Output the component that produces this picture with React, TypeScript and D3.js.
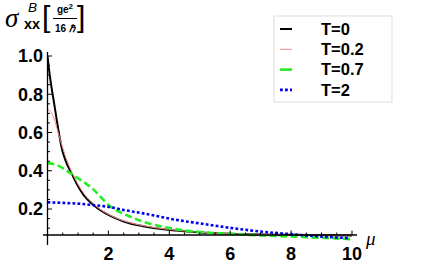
import React from "react";
import * as d3 from "d3";

const muT0 = [0, 0.05, 0.1, 0.2, 0.27, 0.35, 0.48, 0.6, 0.81, 1.0, 1.2, 1.52, 2.05, 2.5, 3.14, 4.24, 5.33, 6.5, 8, 10];
const sT0 = [1.0, 0.93, 0.87, 0.77, 0.7, 0.62, 0.51, 0.45, 0.38, 0.32, 0.27, 0.22, 0.165, 0.135, 0.11, 0.087, 0.074, 0.068, 0.065, 0.062];

const muT02 = [0, 0.1, 0.2, 0.35, 0.5, 0.65, 0.81, 1.0, 1.2, 1.52, 2.05, 2.5, 3.14, 4.24, 5.33, 6.5, 8, 10];
const sT02 = [0.72, 0.71, 0.68, 0.6, 0.52, 0.45, 0.39, 0.33, 0.28, 0.225, 0.168, 0.138, 0.113, 0.089, 0.075, 0.068, 0.065, 0.062];

const muT07 = [0, 0.3, 0.54, 0.81, 1.2, 1.52, 2.05, 2.6, 3.14, 4.24, 5.33, 6, 7, 8.17, 9.2, 10];
const sT07 = [0.44, 0.43, 0.41, 0.38, 0.34, 0.3, 0.215, 0.168, 0.134, 0.094, 0.076, 0.07, 0.062, 0.055, 0.048, 0.042];

const muT2 = [0, 0.5, 1, 1.52, 2.05, 2.5, 3.14, 4.24, 5.33, 6.25, 7.07, 7.95, 8.7, 9.92];
const sT2 = [0.235, 0.232, 0.228, 0.22, 0.21, 0.195, 0.177, 0.143, 0.117, 0.096, 0.081, 0.069, 0.059, 0.047];

const legendLabels = ["T=0", "T=0.2", "T=0.7", "T=2"];
const xTickLabels = [2, 4, 6, 8, 10];
const yTickLabels = [0.2, 0.4, 0.6, 0.8, 1.0];

const series = [
  { mu: muT0, s: sT0, color: "#000000", width: 2, dash: "" },
  { mu: muT02, s: sT02, color: "#f08a8a", width: 1, dash: "" },
  { mu: muT07, s: sT07, color: "#22ee22", width: 2.6, dash: "7,3.5" },
  { mu: muT2, s: sT2, color: "#0000ee", width: 2.6, dash: "2.8,2.2" },
];

export default function App() {
  const x = d3.scaleLinear().domain([0, 10]).range([47.5, 352]);
  const y = d3.scaleLinear().domain([0, 1]).range([247.25, 56]);
  const axisY = y(0.064);
  const axisX = x(0);
  const line = d3
    .line<[number, number]>()
    .x((d) => x(d[0]))
    .y((d) => y(d[1]))
    .curve(d3.curveMonotoneX);

  const xTicks = d3.range(0.5, 10.01, 0.5);
  const yTicks = d3.range(0.1, 1.001, 0.05);
  const sans = "'Liberation Sans', Arial, sans-serif";
  const serif = "'Liberation Serif', 'Times New Roman', serif";

  return (
    <svg width={436} height={272} style={{ position: "absolute", left: 0, top: 0 }}>
      <rect width={436} height={272} fill="white" />
      <defs>
        <clipPath id="plot">
          <rect x={x(0)} y={y(1.03)} width={x(10.1) - x(0)} height={y(0.012) - y(1.03)} />
        </clipPath>
      </defs>
      <g clipPath="url(#plot)">
        {series.map((sr, i) => (
          <path
            key={i}
            d={line(sr.mu.map((m, j) => [m, sr.s[j]] as [number, number])) || ""}
            fill="none"
            stroke={sr.color}
            strokeWidth={sr.width}
            strokeDasharray={sr.dash}
          />
        ))}
      </g>
      {/* axes */}
      <line x1={43} x2={357} y1={axisY} y2={axisY} stroke="black" strokeWidth={1.3} />
      <line x1={axisX} x2={axisX} y1={245} y2={52} stroke="black" strokeWidth={1.3} />
      {xTicks.map((t, i) => {
        const major = Math.abs(t / 2 - Math.round(t / 2)) < 1e-6;
        return (
          <line key={i} x1={x(t)} x2={x(t)} y1={axisY} y2={axisY - (major ? 4.5 : 2.5)} stroke="black" strokeWidth={1} />
        );
      })}
      {yTicks.map((t, i) => {
        const major = Math.abs(t / 0.2 - Math.round(t / 0.2)) < 1e-6;
        return (
          <line key={i} x1={axisX} x2={axisX + (major ? 4.5 : 2.5)} y1={y(t)} y2={y(t)} stroke="black" strokeWidth={1} />
        );
      })}
      {xTickLabels.map((t) => (
        <text key={t} x={x(t)} y={260} textAnchor="middle" fontFamily={sans} fontWeight="bold" fontSize={18}>
          {t}
        </text>
      ))}
      {yTickLabels.map((t) => (
        <text key={t} x={43} y={y(t)} dy="0.35em" textAnchor="end" fontFamily={sans} fontWeight="bold" fontSize={18}>
          {t.toFixed(1)}
        </text>
      ))}
      <text x={366} y={245} fontFamily={serif} fontStyle="italic" fontSize={19}>
        μ
      </text>
      {/* title */}
      <text x={5} y={27} fontFamily={serif} fontStyle="italic" fontSize={27}>
        σ
      </text>
      <text x={28} y={11.5} fontFamily={sans} fontStyle="italic" fontSize={13.5}>
        B
      </text>
      <text x={24} y={29} fontFamily={sans} fontWeight="bold" fontSize={14.5}>
        xx
      </text>
      <text x={42} y={26.5} fontFamily={sans} fontSize={30}>
        [
      </text>
      <text x={65} y={13} textAnchor="middle" fontFamily={sans} fontWeight="bold" fontSize={10}>
        ge<tspan dy={-4} fontSize={8}>2</tspan>
      </text>
      <line x1={53} x2={77} y1={18.5} y2={18.5} stroke="black" strokeWidth={1} />
      <text x={65} y={32} textAnchor="middle" fontFamily={sans} fontWeight="bold" fontSize={10}>
        16 <tspan fontStyle="italic">ℏ</tspan>
      </text>
      <text x={77} y={26.5} fontFamily={sans} fontSize={30}>
        ]
      </text>
      {/* legend */}
      <rect x={274} y={16} width={118} height={86} fill="white" stroke="#dddddd" strokeWidth={1} />
      {legendLabels.map((lab, i) => {
        const ly = 29 + i * 20.3;
        const sr = series[i];
        return (
          <g key={lab}>
            <line x1={280} x2={292} y1={ly} y2={ly} stroke={sr.color} strokeWidth={sr.width} strokeDasharray={i === 2 ? "" : sr.dash} />
            <text x={321} y={ly} dy="0.35em" fontFamily={sans} fontWeight="bold" fontSize={16.5}>
              {lab}
            </text>
          </g>
        );
      })}
    </svg>
  );
}
